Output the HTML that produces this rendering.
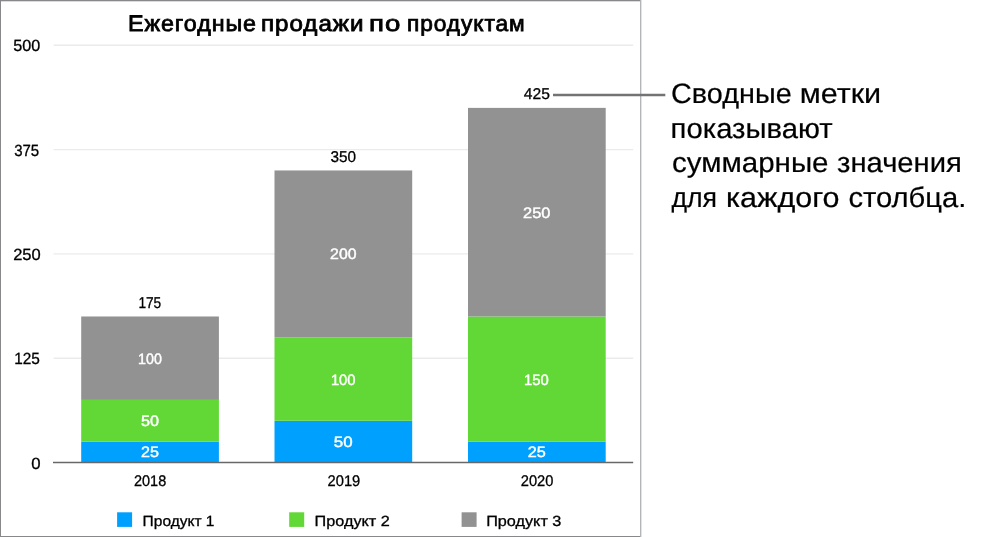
<!DOCTYPE html>
<html lang="ru">
<head>
<meta charset="utf-8">
<title>Ежегодные продажи по продуктам</title>
<style>
html, body { margin: 0; padding: 0; background: #fff; }
body { width: 985px; height: 537px; position: relative; overflow: hidden; }
svg { position: absolute; left: 0; top: 0; display: block; text-rendering: geometricPrecision; will-change: transform; }
</style>
</head>
<body>
<svg width="985" height="537" viewBox="0 0 985 537" font-family="'Liberation Sans', 'Noto Sans CJK SC', sans-serif">
<rect x="0" y="0" width="641" height="537" fill="#fff"/>
<rect x="0" y="0" width="641" height="1" fill="#88888b"/>
<rect x="0" y="1" width="640" height="0.3" fill="#88888b"/>
<rect x="0" y="536" width="641" height="1" fill="#88888b"/>
<rect x="0" y="0" width="1" height="537" fill="#88888b"/>
<rect x="640" y="0" width="1" height="537" fill="#b4b5b8"/>
<rect x="641" y="0" width="1" height="537" fill="#e2e3e3"/>
<g stroke="#ebebeb" stroke-width="1.4">
<line x1="53.6" y1="45.30" x2="633.2" y2="45.30"/>
<line x1="53.6" y1="149.60" x2="633.2" y2="149.60"/>
<line x1="53.6" y1="253.90" x2="633.2" y2="253.90"/>
<line x1="53.6" y1="358.20" x2="633.2" y2="358.20"/>
</g>
<rect x="81.2" y="441.64" width="137.7" height="20.86" fill="#00A0FF"/>
<rect x="81.2" y="399.92" width="137.7" height="41.72" fill="#61D836"/>
<rect x="81.2" y="316.48" width="137.7" height="83.44" fill="#929292"/>
<rect x="274.5" y="420.78" width="137.7" height="41.72" fill="#00A0FF"/>
<rect x="274.5" y="337.34" width="137.7" height="83.44" fill="#61D836"/>
<rect x="274.5" y="170.46" width="137.7" height="166.88" fill="#929292"/>
<rect x="468.0" y="441.64" width="137.7" height="20.86" fill="#00A0FF"/>
<rect x="468.0" y="316.48" width="137.7" height="125.16" fill="#61D836"/>
<rect x="468.0" y="107.88" width="137.7" height="208.60" fill="#929292"/>
<line x1="53" y1="462.5" x2="633.2" y2="462.5" stroke="#686868" stroke-width="1.3"/>
<line x1="553" y1="95" x2="665.3" y2="95" stroke="#737373" stroke-width="2.5"/>
<rect x="117.1" y="512.3" width="15" height="14.6" fill="#00A0FF"/>
<rect x="289.2" y="512.3" width="15" height="14.6" fill="#61D836"/>
<rect x="461.6" y="512.3" width="15" height="14.6" fill="#929292"/>
<text x="128.00" y="31.40" font-size="22.50" stroke="#000" stroke-width="0.8" fill="#000" letter-spacing="0.9" textLength="129.02" lengthAdjust="spacingAndGlyphs">Ежегодные</text>
<text x="261.00" y="31.40" font-size="22.50" stroke="#000" stroke-width="0.8" fill="#000" letter-spacing="0.9" textLength="103.41" lengthAdjust="spacingAndGlyphs">продажи</text>
<text x="369.00" y="31.40" font-size="22.50" stroke="#000" stroke-width="0.8" fill="#000" letter-spacing="0.9" textLength="32.52" lengthAdjust="spacingAndGlyphs">по</text>
<text x="407.00" y="31.40" font-size="22.50" stroke="#000" stroke-width="0.8" fill="#000" letter-spacing="0.9" textLength="118.64" lengthAdjust="spacingAndGlyphs">продуктам</text>
<text x="13.20" y="51.30" font-size="16.20" stroke="#000" stroke-width="0.3" fill="#000" textLength="26.99" lengthAdjust="spacingAndGlyphs">500</text>
<text x="14.20" y="155.80" font-size="16.20" stroke="#000" stroke-width="0.3" fill="#000" textLength="25.00" lengthAdjust="spacingAndGlyphs">375</text>
<text x="13.20" y="260.10" font-size="16.20" stroke="#000" stroke-width="0.3" fill="#000" textLength="27.55" lengthAdjust="spacingAndGlyphs">250</text>
<text x="14.20" y="364.30" font-size="16.20" stroke="#000" stroke-width="0.3" fill="#000" textLength="25.66" lengthAdjust="spacingAndGlyphs">125</text>
<text x="31.20" y="469.20" font-size="16.20" stroke="#000" stroke-width="0.3" fill="#000" textLength="9.32" lengthAdjust="spacingAndGlyphs">0</text>
<text x="138.40" y="308.20" font-size="15.60" stroke="#000" stroke-width="0.3" fill="#000" textLength="22.86" lengthAdjust="spacingAndGlyphs">175</text>
<text x="330.40" y="162.00" font-size="15.60" stroke="#000" stroke-width="0.3" fill="#000" textLength="25.54" lengthAdjust="spacingAndGlyphs">350</text>
<text x="523.80" y="99.00" font-size="15.60" stroke="#000" stroke-width="0.3" fill="#000" textLength="26.07" lengthAdjust="spacingAndGlyphs">425</text>
<text x="134.00" y="486.00" font-size="15.40" stroke="#000" stroke-width="0.3" fill="#000" textLength="32.22" lengthAdjust="spacingAndGlyphs">2018</text>
<text x="327.60" y="486.00" font-size="15.40" stroke="#000" stroke-width="0.3" fill="#000" textLength="32.69" lengthAdjust="spacingAndGlyphs">2019</text>
<text x="520.80" y="486.00" font-size="15.40" stroke="#000" stroke-width="0.3" fill="#000" textLength="32.60" lengthAdjust="spacingAndGlyphs">2020</text>
<text x="142.60" y="525.70" font-size="14.80" stroke="#000" stroke-width="0.3" fill="#000" textLength="71.90" lengthAdjust="spacingAndGlyphs">Продукт 1</text>
<text x="314.60" y="525.70" font-size="14.80" stroke="#000" stroke-width="0.3" fill="#000" textLength="75.18" lengthAdjust="spacingAndGlyphs">Продукт 2</text>
<text x="486.20" y="525.70" font-size="14.80" stroke="#000" stroke-width="0.3" fill="#000" textLength="75.19" lengthAdjust="spacingAndGlyphs">Продукт 3</text>
<text x="671.00" y="103.00" font-size="28.00" stroke="#000" stroke-width="0.2" fill="#000" textLength="120.70" lengthAdjust="spacingAndGlyphs">Сводные</text>
<text x="799.80" y="103.00" font-size="28.00" stroke="#000" stroke-width="0.2" fill="#000" textLength="81.36" lengthAdjust="spacingAndGlyphs">метки</text>
<text x="670.60" y="137.80" font-size="28.00" stroke="#000" stroke-width="0.2" fill="#000" textLength="162.15" lengthAdjust="spacingAndGlyphs">показывают</text>
<text x="672.00" y="172.20" font-size="28.00" stroke="#000" stroke-width="0.2" fill="#000" textLength="156.52" lengthAdjust="spacingAndGlyphs">суммарные</text>
<text x="837.00" y="172.20" font-size="28.00" stroke="#000" stroke-width="0.2" fill="#000" textLength="124.86" lengthAdjust="spacingAndGlyphs">значения</text>
<text x="671.40" y="206.80" font-size="28.00" stroke="#000" stroke-width="0.2" fill="#000" textLength="45.59" lengthAdjust="spacingAndGlyphs">для</text>
<text x="726.00" y="206.80" font-size="28.00" stroke="#000" stroke-width="0.2" fill="#000" textLength="113.59" lengthAdjust="spacingAndGlyphs">каждого</text>
<text x="848.40" y="206.80" font-size="28.00" stroke="#000" stroke-width="0.2" fill="#000" textLength="117.96" lengthAdjust="spacingAndGlyphs">столбца.</text>
<text x="141.00" y="457.48" font-size="15.00" stroke="#fff" stroke-width="0.45" fill="#fff" textLength="17.89" lengthAdjust="spacingAndGlyphs">25</text>
<text x="141.00" y="426.20" font-size="15.00" stroke="#fff" stroke-width="0.45" fill="#fff" textLength="18.02" lengthAdjust="spacingAndGlyphs">50</text>
<text x="138.10" y="363.65" font-size="15.00" stroke="#fff" stroke-width="0.45" fill="#fff" textLength="23.82" lengthAdjust="spacingAndGlyphs">100</text>
<text x="333.80" y="447.05" font-size="15.00" stroke="#fff" stroke-width="0.45" fill="#fff" textLength="18.81" lengthAdjust="spacingAndGlyphs">50</text>
<text x="330.90" y="384.50" font-size="15.00" stroke="#fff" stroke-width="0.45" fill="#fff" textLength="24.67" lengthAdjust="spacingAndGlyphs">100</text>
<text x="330.10" y="259.40" font-size="15.00" stroke="#fff" stroke-width="0.45" fill="#fff" textLength="26.47" lengthAdjust="spacingAndGlyphs">200</text>
<text x="527.80" y="457.48" font-size="15.00" stroke="#fff" stroke-width="0.45" fill="#fff" textLength="18.01" lengthAdjust="spacingAndGlyphs">25</text>
<text x="523.90" y="384.50" font-size="15.00" stroke="#fff" stroke-width="0.45" fill="#fff" textLength="24.77" lengthAdjust="spacingAndGlyphs">150</text>
<text x="523.10" y="217.70" font-size="15.00" stroke="#fff" stroke-width="0.45" fill="#fff" textLength="27.40" lengthAdjust="spacingAndGlyphs">250</text>
</svg>
</body>
</html>
